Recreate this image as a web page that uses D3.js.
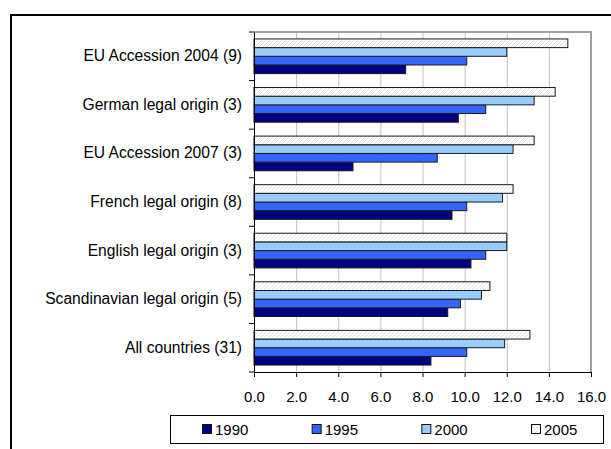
<!DOCTYPE html>
<html>
<head>
<meta charset="utf-8">
<script src="https://cdn.jsdelivr.net/npm/d3@7"></script>
<style>
  body { margin: 0; background: #fff; }
  text { font-family: "Liberation Sans", Arial, sans-serif; font-size: 15px; fill: #000; }
</style>
</head>
<body>
<div id="chart"></div>
<script>
var categories = [
    "EU Accession 2004 (9)",
    "German legal origin (3)",
    "EU Accession 2007 (3)",
    "French legal origin (8)",
    "English legal origin (3)",
    "Scandinavian legal origin (5)",
    "All countries (31)"
];

var years = ["1990", "1995", "2000", "2005"];

var values1990 = [7.2, 9.7, 4.7, 9.4, 10.3, 9.2, 8.4];
var values1995 = [10.1, 11.0, 8.7, 10.1, 11.0, 9.8, 10.1];
var values2000 = [12.0, 13.3, 12.3, 11.8, 12.0, 10.8, 11.9];
var values2005 = [14.9, 14.3, 13.3, 12.3, 12.0, 11.2, 13.1];

var xTicks = [0, 2, 4, 6, 8, 10, 12, 14, 16];

var series = [values1990, values1995, values2000, values2005];
var colors = ["#000080", "#3366ff", "#99ccff", "url(#hatch)"];

var margin = {top: 32, right: 20, bottom: 77, left: 254},
    width = 337,
    height = 340;

var svg = d3.select("#chart")
    .append("svg")
        .attr("width", 611)
        .attr("height", 449);

// diagonal hatch for 2005
var pat = svg.append("defs").append("pattern")
    .attr("id", "hatch")
    .attr("patternUnits", "userSpaceOnUse")
    .attr("width", 4)
    .attr("height", 4);
pat.append("rect").attr("width", 4).attr("height", 4).attr("fill", "#fff");
pat.append("path")
    .attr("d", "M-1,1 l2,-2 M0,4 l4,-4 M3,5 l2,-2")
    .attr("stroke", "#e2e2e2")
    .attr("stroke-width", 1);

// outer frame
svg.append("rect")
    .attr("x", 11)
    .attr("y", 15)
    .attr("width", 640)
    .attr("height", 480)
    .attr("fill", "none")
    .attr("stroke", "#000")
    .attr("stroke-width", 2);

var chart = svg.append("g")
    .attr("transform", "translate(" + margin.left + "," + margin.top + ")");

var x = d3.scaleLinear()
    .domain([0, 16])
    .range([0, width]);

var y = d3.scaleBand()
    .domain(categories)
    .range([0, height]);

// bars drawn top to bottom: 2005, 2000, 1995, 1990
var yInner = d3.scaleBand()
    .domain(years.slice().reverse())
    .range([0, y.bandwidth()])
    .paddingOuter(0.8);

// gridlines
chart.selectAll(".grid")
    .data(xTicks.slice(1, -1))
    .enter()
    .append("line")
    .attr("x1", function(d) { return x(d) + 0.5; })
    .attr("x2", function(d) { return x(d) + 0.5; })
    .attr("y1", 0)
    .attr("y2", height)
    .attr("stroke", "#c0c0c0");

// plot frame top and right
chart.append("path")
    .attr("d", "M0,0 H" + width + " V" + height)
    .attr("fill", "none")
    .attr("stroke", "#a0a0a0")
    .attr("stroke-width", 2);

years.forEach(function(yr, i) {
    chart.selectAll(".bar" + yr)
        .data(series[i])
        .enter()
        .append("rect")
        .attr("x", x(0))
        .attr("y", function(d, j) { return y(categories[j]) + yInner(yr); })
        .attr("width", function(d) { return x(d) - x(0); })
        .attr("height", yInner.bandwidth())
        .attr("fill", colors[i])
        .attr("stroke", "#1a1a1a")
        .attr("stroke-width", 1);
});

// y axis
var yAxis = chart.append("g")
    .call(d3.axisLeft(y).tickSize(0).tickPadding(12));
yAxis.select(".domain").attr("stroke", "#000");
yAxis.selectAll("text").style("font-size", "15.6px");

chart.selectAll(".ytick")
    .data(d3.range(categories.length + 1))
    .enter()
    .append("line")
    .attr("x1", -5)
    .attr("x2", 0)
    .attr("y1", function(d) { return d * y.step(); })
    .attr("y2", function(d) { return d * y.step(); })
    .attr("stroke", "#000");

// x axis
var xAxis = chart.append("g")
    .attr("transform", "translate(0," + height + ")")
    .call(d3.axisBottom(x)
        .tickValues(xTicks)
        .tickFormat(d3.format(".1f"))
        .tickSize(5)
        .tickSizeOuter(0)
        .tickPadding(14));
xAxis.selectAll("text").style("font-size", "15px");

// legend
var legend = svg.append("g");
legend.append("rect")
    .attr("x", 170.5)
    .attr("y", 415.5)
    .attr("width", 433)
    .attr("height", 28)
    .attr("fill", "#fff")
    .attr("stroke", "#000");

var legendX = d3.scalePoint()
    .domain(years)
    .range([202, 531]);

years.forEach(function(yr, i) {
    legend.append("rect")
        .attr("x", legendX(yr) + 0.5)
        .attr("y", 424.5)
        .attr("width", 9)
        .attr("height", 9)
        .attr("fill", colors[i])
        .attr("stroke", "#111");
    legend.append("text")
        .attr("x", legendX(yr) + 13)
        .attr("y", 434.5)
        .text(yr);
});
</script>
</body>
</html>
